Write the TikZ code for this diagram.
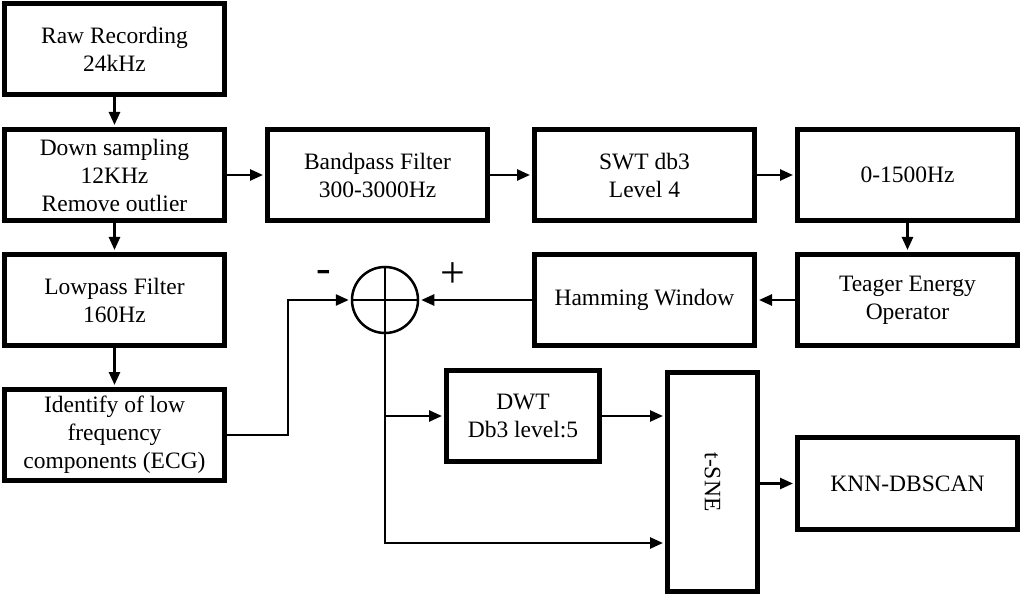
\documentclass[tikz,border=0pt]{standalone}
\usepackage{fontspec}
\setmainfont{Liberation Serif}
\usetikzlibrary{arrows.meta,calc}
\begin{document}
\begin{tikzpicture}[x=1pt,y=-1pt,
  box/.style={draw, line width=5pt, inner sep=0pt, align=center,
    font=\fontsize{23.5}{28}\selectfont, minimum width=220pt, minimum height=91pt},
  arr/.style={line width=2.5pt, -{Triangle[length=13pt,width=11pt]}, shorten >=2pt},
  ln/.style={line width=2.5pt},
  sign/.style={inner sep=0pt, font=\fontsize{44}{44}\selectfont}]
\useasboundingbox[fill=white] (0,0) rectangle (1021,596);

\node[box] (raw)    at (114.5,49.5) {Raw Recording\\24kHz};
\node[box] (down)   at (114.5,175)  {Down sampling\\12KHz\\Remove outlier};
\node[box] (low)    at (114.5,300)  {Lowpass Filter\\160Hz};
\node[box] (ident)  at (114.5,435)  {Identify of low\\frequency\\components (ECG)};
\node[box] (band)   at (377.5,175)  {Bandpass Filter\\300-3000Hz};
\node[box] (swt)    at (644.5,175)  {SWT db3\\Level 4};
\node[box] (f0)     at (907.5,175)  {0-1500Hz};
\node[box] (teager) at (907.5,300)  {Teager Energy\\Operator};
\node[box] (ham)    at (644.5,300)  {Hamming Window};
\node[draw, circle, line width=2.5pt, minimum size=66pt, inner sep=0pt] (sum) at (385,300) {};
\node[box, minimum width=153pt] (dwt) at (523,416) {DWT\\Db3 level:5};
\node[box, minimum width=90pt, minimum height=219pt] (tsne) at (712.5,482) {};
\node[rotate=-90, font=\fontsize{23.5}{28}\selectfont] (tsnet) at (tsne.center) {t-SNE};
\node[box, minimum height=92pt] (knn) at (907.5,483.5) {KNN-DBSCAN};
\node[sign] (minus) at (324,276) {-};
\node[sign] (plus)  at (453,275) {+};

\draw[ln] (sum.north) -- (sum.south);
\draw[ln] (sum.west) -- (sum.east);

\draw[arr] (raw.south) -- (down.north);
\draw[arr] (down.south) -- (low.north);
\draw[arr] (low.south) -- (ident.north);
\draw[arr] (down.east) -- (band.west);
\draw[arr] (band.east) -- (swt.west);
\draw[arr] (swt.east) -- (f0.west);
\draw[arr] (f0.south) -- (teager.north);
\draw[arr] (teager.west) -- (ham.west -| ham.east);
\draw[arr] (ham.west) -- (sum.east);

\coordinate (c1) at (288,300);
\draw[arr] (ident.east) -| (c1) -- (sum.west);

\coordinate (c2) at (385,543);
\coordinate (c3) at (385,416);
\draw[arr] (sum.south) -- (c2) -- (tsne.west |- c2);
\draw[arr] (c3) -- (dwt.west);
\draw[arr] (dwt.east) -- (tsne.west |- dwt.east);
\draw[arr] (tsne.east |- knn.west) -- (knn.west);
\end{tikzpicture}
\end{document}
